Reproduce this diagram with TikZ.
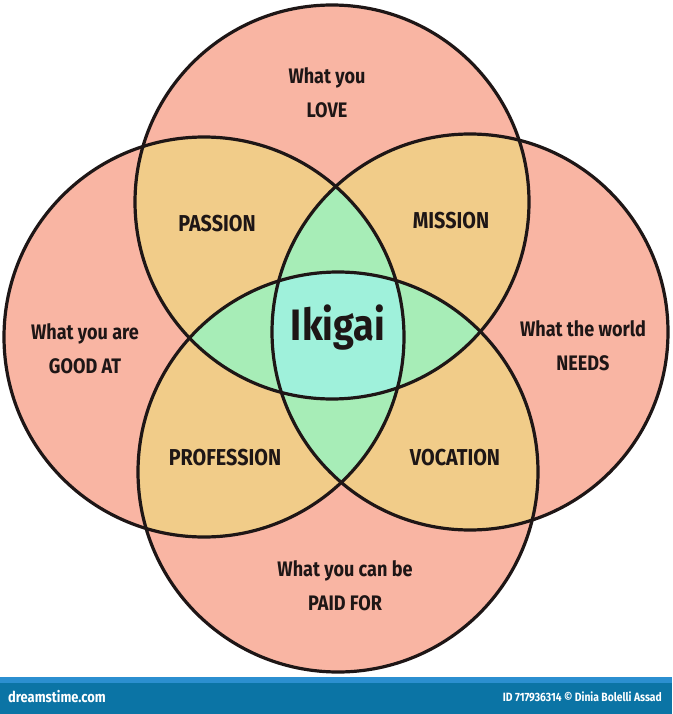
\documentclass[tikz,border=0pt]{standalone}
\usepackage{fontspec}
\setmainfont{Fira Sans}[FakeStretch=0.86]
\definecolor{pinkc}{HTML}{F9B5A3}
\definecolor{tanc}{HTML}{F1CC89}
\definecolor{greenc}{HTML}{A7EDB7}
\definecolor{cyanc}{HTML}{9FF1DB}
\definecolor{inkc}{HTML}{1E1616}
\definecolor{barc}{HTML}{0B74A5}
\definecolor{barlc}{HTML}{2B8FD0}
\tikzset{
  lbl/.style={font=\fontsize{21}{25}\selectfont\bfseries, text=inkc, align=center, inner sep=0pt},
  caplbl/.style={font=\fontsize{23}{27}\selectfont\bfseries, text=inkc, align=center, inner sep=0pt},
  ring/.style={draw=inkc, line width=3.2pt},
}
\def\cT{(332,202) circle (197)}
\def\cL{(204,337) circle (200)}
\def\cR{(470,332) circle (198)}
\def\cB{(338,472) circle (200)}
\begin{document}
\begin{tikzpicture}[x=1pt,y=-1pt]
\useasboundingbox (0,0) rectangle (672,714);
\fill[white] (0,0) rectangle (672,714);
% single
\fill[pinkc] \cT; \fill[pinkc] \cL; \fill[pinkc] \cR; \fill[pinkc] \cB;
% pairs
\begin{scope}\clip \cT; \fill[tanc] \cL; \fill[tanc] \cR; \fill[tanc] \cB; \end{scope}
\begin{scope}\clip \cL; \fill[tanc] \cR; \fill[tanc] \cB; \end{scope}
\begin{scope}\clip \cR; \fill[tanc] \cB; \end{scope}
% triples
\begin{scope}\clip \cT; \clip \cL; \fill[greenc] \cR; \fill[greenc] \cB; \end{scope}
\begin{scope}\clip \cT; \clip \cR; \fill[greenc] \cB; \end{scope}
\begin{scope}\clip \cL; \clip \cR; \fill[greenc] \cB; \end{scope}
% all four
\begin{scope}\clip \cT; \clip \cL; \clip \cR; \fill[cyanc] \cB; \end{scope}
% outlines
\draw[ring] \cT; \draw[ring] \cL; \draw[ring] \cR; \draw[ring] \cB;
% labels
\node[lbl] (love) at (327,93) {What you\\[9pt]LOVE};
\node[lbl] (good) at (85,349) {What you are\\[9pt]GOOD AT};
\node[lbl] (needs) at (583,346) {What the world\\[9pt]NEEDS};
\node[lbl] (paid) at (345,586) {What you can be\\[9pt]PAID FOR};
\node[caplbl] (passion) at (217,224) {PASSION};
\node[caplbl] (mission) at (451,221) {MISSION};
\node[caplbl] (profession) at (225,458) {PROFESSION};
\node[caplbl] (vocation) at (455,458) {VOCATION};
\node[font=\fontsize{44}{48}\selectfont\bfseries, text=inkc, inner sep=0pt] (ikigai) at (338,328) {Ikigai};
% bottom bar
\fill[barc] (0,677) rectangle (672,714);
\fill[barlc] (0,677) rectangle (672,683);
\node[font=\fontsize{15}{17}\selectfont\bfseries, text=white, anchor=west, inner sep=0pt] (dt) at (8,697) {dreamstime.com};
\node[font=\fontsize{12}{14}\selectfont\bfseries, text=white, anchor=east, inner sep=0pt] (id) at (662,697) {ID 717936314 © Dinia Bolelli Assad};
\end{tikzpicture}
\end{document}
